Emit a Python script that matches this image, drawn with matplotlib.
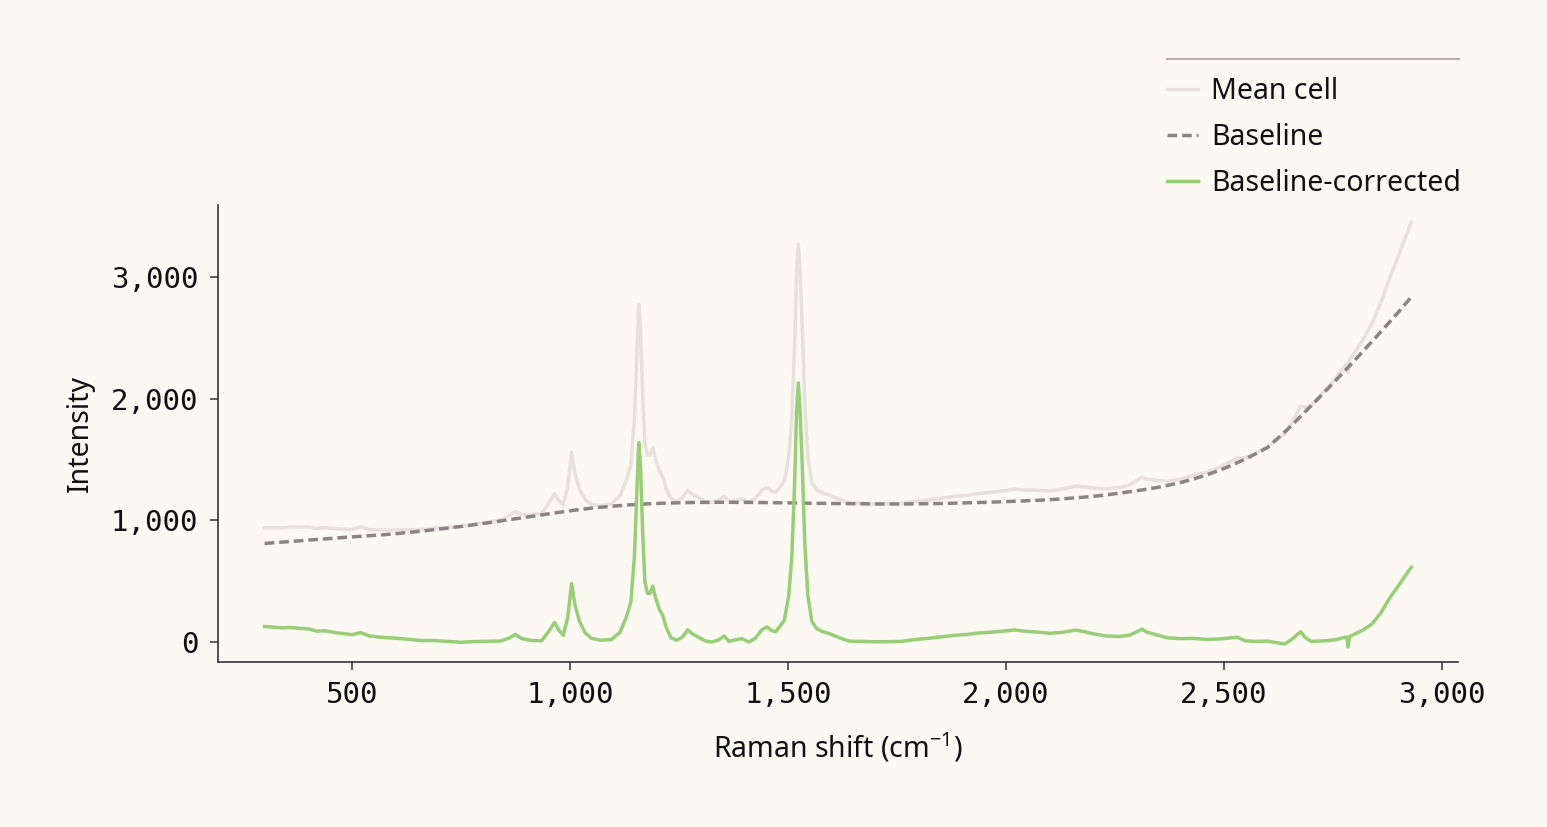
import matplotlib
matplotlib.use("Agg")
import matplotlib.pyplot as plt
from matplotlib.lines import Line2D
import numpy as np

# ---- data ----
shift = [300, 320, 340, 360, 380, 400, 420, 440, 460, 480, 500, 520, 540, 560, 580, 600,
         630, 660, 690, 720, 750, 780, 810, 840, 860, 875, 890, 910, 935, 950, 965, 975,
         985, 995, 1004, 1012, 1022, 1035, 1050, 1070, 1095, 1115, 1130, 1140, 1148, 1154,
         1158, 1162, 1167, 1172, 1178, 1184, 1190, 1197, 1205, 1213, 1222, 1232, 1245, 1258,
         1270, 1282, 1295, 1310, 1325, 1340, 1354, 1365, 1380, 1395, 1410, 1425, 1440, 1452,
         1462, 1472, 1482, 1492, 1502, 1509, 1515, 1520, 1524, 1528, 1533, 1539, 1546, 1555,
         1566, 1580, 1595, 1615, 1640, 1670, 1700, 1730, 1760, 1790, 1820, 1850, 1880, 1910,
         1940, 1970, 2000, 2020, 2040, 2060, 2080, 2100, 2130, 2160, 2180, 2200, 2230, 2260,
         2285, 2300, 2312, 2325, 2345, 2370, 2400, 2430, 2460, 2490, 2510, 2530, 2550, 2570,
         2600, 2620, 2640, 2655, 2668, 2676, 2686, 2700, 2720, 2740, 2760, 2775, 2782, 2785,
         2788, 2800, 2820, 2840, 2860, 2880, 2900, 2915, 2930]

corrected = [128, 122, 117, 120, 112, 108, 90, 92, 78, 70, 60, 78, 50, 42, 36, 32,
             22, 12, 12, 5, -2, 4, 6, 8, 32, 62, 28, 14, 10, 80, 160, 95,
             55, 200, 480, 300, 170, 75, 30, 15, 20, 80, 210, 330, 700, 1250,
             1640, 1450, 900, 500, 400, 400, 460, 360, 270, 220, 110, 35, 15, 40,
             100, 65, 40, 10, 0, 15, 50, 5, 18, 28, 0, 30, 100, 125,
             95, 85, 130, 180, 380, 700, 1250, 1900, 2130, 1900, 1450, 800, 380, 170,
             110, 85, 70, 40, 8, 5, 2, 3, 5, 20, 30, 42, 55, 62,
             75, 82, 92, 100, 90, 85, 80, 72, 80, 98, 85, 68, 50, 45,
             58, 85, 105, 80, 60, 35, 28, 30, 22, 25, 32, 40, 10, 5,
             8, -5, -15, 20, 60, 85, 40, 5, 8, 12, 22, 38, 40, -40,
             45, 65, 100, 150, 240, 360, 460, 540, 615]

baseline = [810, 816, 821, 827, 832, 838, 843, 848, 854, 859, 864, 869, 874, 879, 884, 890,
            901, 912, 924, 937, 950, 964, 979, 995, 1005, 1013, 1021, 1031, 1045, 1053, 1061, 1066,
            1071, 1076, 1081, 1084, 1089, 1094, 1101, 1108, 1116, 1122, 1126, 1128, 1130, 1132,
            1133, 1133, 1134, 1135, 1136, 1137, 1138, 1139, 1140, 1141, 1142, 1143, 1144, 1145,
            1146, 1147, 1148, 1148, 1148, 1149, 1149, 1149, 1148, 1148, 1148, 1147, 1146, 1146,
            1146, 1145, 1145, 1144, 1144, 1143, 1143, 1143, 1143, 1142, 1142, 1142, 1141, 1141,
            1140, 1140, 1139, 1138, 1137, 1136, 1135, 1135, 1135, 1136, 1137, 1139, 1141, 1144,
            1147, 1150, 1154, 1157, 1160, 1163, 1166, 1170, 1177, 1185, 1191, 1197, 1210, 1223,
            1236, 1243, 1250, 1258, 1269, 1287, 1310, 1340, 1373, 1412, 1441, 1473, 1505, 1542,
            1598, 1663, 1728, 1778, 1825, 1854, 1890, 1940, 2014, 2088, 2163, 2220, 2247, 2258,
            2270, 2315, 2393, 2471, 2550, 2630, 2710, 2774, 2837]

series_labels = ["Mean cell", "Baseline", "Baseline-corrected"]
x_ticks = [500, 1000, 1500, 2000, 2500, 3000]
y_ticks = [0, 1000, 2000, 3000]

shift_a = np.array(shift, dtype=float)
corr_a = np.array(corrected, dtype=float)
base_a = np.array(baseline, dtype=float)
mean_a = base_a + corr_a

# ---- style ----
BG = "#FCF8F2"
C_MEAN = "#E6E1DA"
C_BASE = "#8A8580"
C_CORR = "#98CE78"
C_AX = "#333333"

plt.rcParams["lines.scale_dashes"] = False
plt.rcParams["mathtext.default"] = "regular"
plt.rcParams["font.family"] = ["Noto Sans", "DejaVu Sans"]

fig = plt.figure(figsize=(15.47, 8.27), dpi=100, facecolor=BG)
ax = fig.add_axes([218 / 1547, 1 - 662 / 827, (1458 - 218) / 1547, (662 - 205) / 827])
ax.set_facecolor(BG)

ax.plot(shift_a, mean_a, color=C_MEAN, lw=2.5, label=series_labels[0], zorder=2)
ax.plot(shift_a, base_a, color=C_BASE, lw=2.5, dashes=(7, 3.5), label=series_labels[1], zorder=3)
ax.plot(shift_a, corr_a, color=C_CORR, lw=2.5, label=series_labels[2], zorder=4)

ax.set_xlim(193, 3037)
ax.set_ylim(-164, 3592)
ax.set_xticks(x_ticks)
ax.set_yticks(y_ticks)
ax.set_xticklabels([f"{v:,}" for v in x_ticks])
ax.set_yticklabels([f"{v:,}" for v in y_ticks])

for s in ["top", "right"]:
    ax.spines[s].set_visible(False)
for s in ["left", "bottom"]:
    ax.spines[s].set_color(C_AX)
    ax.spines[s].set_linewidth(1.2)

ax.tick_params(axis="both", direction="out", length=6, width=1.1, color=C_AX,
               labelcolor="#111111", pad=8)
for lab in ax.get_xticklabels() + ax.get_yticklabels():
    lab.set_family("DejaVu Sans Mono")
    lab.set_fontsize(21)

ax.set_xlabel("Raman shift (cm$^{-1}$)", fontsize=20.5, color="#111111", labelpad=15)
ax.set_ylabel("Intensity", fontsize=20.5, color="#111111", labelpad=12)

leg = fig.legend(loc="upper left", bbox_to_anchor=(1167 / 1547, 1 - 77 / 827),
                 frameon=False, fontsize=20.5, handlelength=1.09, handletextpad=0.46,
                 labelspacing=0.6, borderpad=0, borderaxespad=0)
for t in leg.get_texts():
    t.set_color("#111111")

fig.add_artist(Line2D([1167 / 1547, 1459 / 1547], [1 - 59 / 827, 1 - 59 / 827],
                      transform=fig.transFigure, color="#BDB1A7", lw=1.6))

fig.savefig("out.png", dpi=100, facecolor=BG)
